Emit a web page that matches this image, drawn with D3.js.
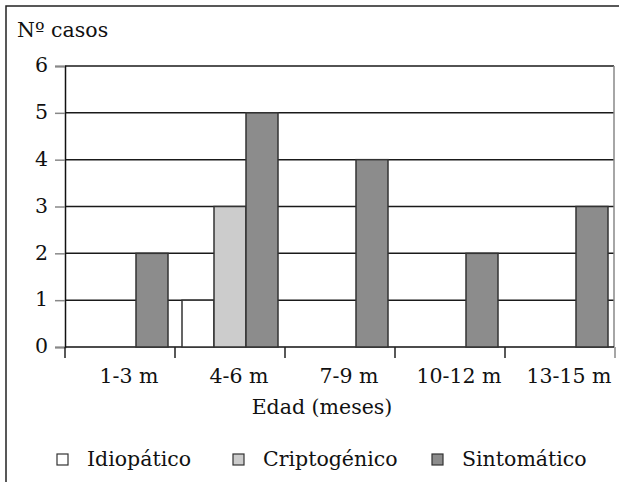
<!DOCTYPE html>
<html>
<head>
<meta charset="utf-8">
<script src="https://cdn.jsdelivr.net/npm/d3@7"></script>
<style>
    body { margin: 0; background: #fff; }
    text { font-family: "DejaVu Serif", serif; font-size: 20.5px; fill: #111; }
</style>
</head>
<body>
<div id="chart"></div>
<script>
// data
const categories = ["1-3 m", "4-6 m", "7-9 m", "10-12 m", "13-15 m"];
const seriesNames = ["Idiopático", "Criptogénico", "Sintomático"];
const idiopatico = [0, 1, 0, 0, 0];
const criptogenico = [0, 3, 0, 0, 0];
const sintomatico = [2, 5, 4, 2, 3];
const yTicks = [0, 1, 2, 3, 4, 5, 6];

const colors = ["#ffffff", "#cccccc", "#8c8c8c"];
const seriesValues = [idiopatico, criptogenico, sintomatico];

let width = 619, height = 482;
let plot = {left: 65, right: 614, top: 66, bottom: 347};

let svg = d3.select("#chart")
    .append("svg")
    .attr("width", width)
    .attr("height", height);

// outer frame (top and left only)
svg.append("path")
    .attr("d", `M 6,${height} L 6,6 L ${width},6`)
    .attr("fill", "none")
    .attr("stroke", "#222")
    .attr("stroke-width", 1.5);

let x0 = d3.scaleBand()
    .domain(categories)
    .range([plot.left, 615])
    .padding(0);

let x1 = d3.scaleBand()
    .domain(seriesNames)
    .range([7, 103])
    .padding(0);

let y = d3.scaleLinear()
    .domain([0, 6])
    .range([plot.bottom, plot.top]);

// gridlines
svg.append("g")
    .selectAll("line")
    .data(yTicks.filter(d => d > 0))
    .enter()
    .append("line")
    .attr("x1", plot.left)
    .attr("x2", plot.right)
    .attr("y1", d => y(d))
    .attr("y2", d => y(d))
    .attr("stroke", "#1a1a1a")
    .attr("stroke-width", 1.5);

// right edge of plot
svg.append("line")
    .attr("x1", plot.right).attr("x2", plot.right)
    .attr("y1", plot.top).attr("y2", plot.bottom)
    .attr("stroke", "#888")
    .attr("stroke-width", 1.5);

// y axis
let yAxis = svg.append("g")
    .attr("transform", `translate(${plot.left},0)`)
    .call(d3.axisLeft(y).tickValues(yTicks).tickFormat(d3.format("d")).tickSize(10).tickPadding(7));
yAxis.select(".domain").attr("stroke", "#111").attr("stroke-width", 1.5);
yAxis.selectAll(".tick line").attr("stroke", "#888").attr("stroke-width", 1.5);
yAxis.selectAll(".tick text")
    .style("font-family", "'DejaVu Serif', serif")
    .style("font-size", "20.5px")
    .attr("fill", "#111")
    .attr("dy", "0.28em");

// x axis
let xAxisScale = d3.scaleOrdinal()
    .domain(categories)
    .range(categories.map(c => x0(c)));
let xAxis = svg.append("g")
    .attr("transform", `translate(0,${plot.bottom})`);
xAxis.append("line")
    .attr("x1", plot.left).attr("x2", plot.right)
    .attr("stroke", "#111").attr("stroke-width", 1.5);
xAxis.selectAll(".xtick")
    .data(categories.concat(["end"]))
    .enter()
    .append("line")
    .attr("x1", (d, i) => i < categories.length ? x0(d) : x0.range()[1])
    .attr("x2", (d, i) => i < categories.length ? x0(d) : x0.range()[1])
    .attr("y1", 0)
    .attr("y2", 11)
    .attr("stroke", (d, i) => i < categories.length ? "#222" : "#888")
    .attr("stroke-width", 1.5);
xAxis.selectAll(".xlabel")
    .data(categories)
    .enter()
    .append("text")
    .attr("x", d => x0(d) + x0.bandwidth() / 2 + 9)
    .attr("y", 36)
    .attr("text-anchor", "middle")
    .text(d => d);

// bars
let groups = svg.append("g")
    .selectAll("g")
    .data(categories)
    .enter()
    .append("g")
    .attr("transform", d => `translate(${x0(d)},0)`);

groups.selectAll("rect")
    .data((c, i) => seriesNames.map((s, k) => ({series: s, k: k, value: seriesValues[k][i]})).filter(d => d.value > 0))
    .enter()
    .append("rect")
    .attr("x", d => x1(d.series))
    .attr("width", x1.bandwidth())
    .attr("y", d => y(d.value))
    .attr("height", d => y(0) - y(d.value))
    .attr("fill", d => colors[d.k])
    .attr("stroke", "#333")
    .attr("stroke-width", 1.5);

// axis titles
svg.append("text")
    .attr("x", 17)
    .attr("y", 37)
    .text("Nº casos");

svg.append("text")
    .attr("x", 322)
    .attr("y", 414)
    .attr("text-anchor", "middle")
    .text("Edad (meses)");

// legend
let legendX = [57, 233, 432];
let legend = svg.append("g")
    .selectAll("g")
    .data(seriesNames)
    .enter()
    .append("g")
    .attr("transform", (d, i) => `translate(${legendX[i]},454)`);

legend.append("rect")
    .attr("width", 11)
    .attr("height", 11)
    .attr("fill", (d, i) => colors[i])
    .attr("stroke", "#333")
    .attr("stroke-width", 1.2);

legend.append("text")
    .attr("x", 30)
    .attr("y", 12)
    .text(d => d);
</script>
</body>
</html>
